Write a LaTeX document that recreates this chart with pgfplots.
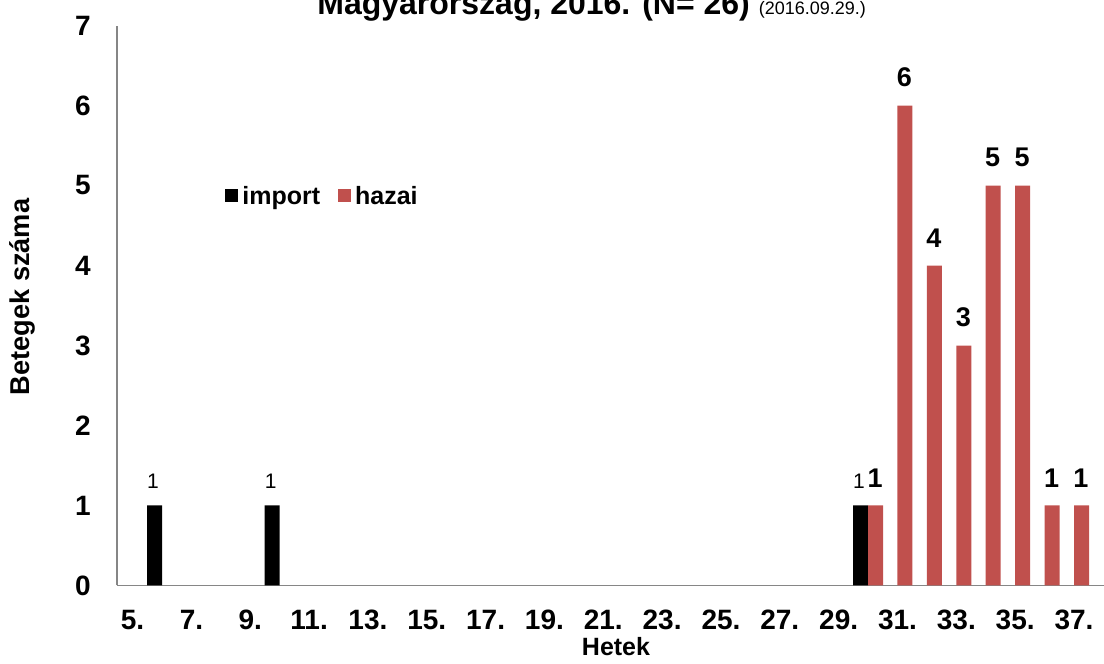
\documentclass[border=0pt]{standalone}
\usepackage{pgfplots}
\pgfplotsset{compat=1.18}
\usepackage{fontspec}
\setmainfont{Liberation Sans}
\definecolor{hazaired}{HTML}{C0504D}
\definecolor{axisgrey}{HTML}{868686}
\begin{document}
\begin{tikzpicture}
\begin{axis}[
  scale only axis,
  width=493.5pt, height=280pt,
  xmin=4.47, xmax=38.02,
  ymin=0, ymax=7,
  axis lines*=left,
  axis line style={axisgrey, line width=0.75pt},
  major tick length=0pt,
  /pgf/number format/assume math mode=true,
  xtick={5,7,...,37},
  xticklabels={5.,7.,9.,11.,13.,15.,17.,19.,21.,23.,25.,27.,29.,31.,33.,35.,37.},
  ytick={0,1,...,7},
  xticklabel style={font=\fontsize{14}{16}\selectfont\bfseries, inner sep=0pt, anchor=base, yshift=-22.25pt},
  yticklabel style={font=\fontsize{14}{16}\selectfont\bfseries, inner sep=0pt, anchor=east, xshift=-13pt},
  clip=false,
  legend style={at={(0.1094,0.694)}, anchor=west, draw=none, fill=none,
    font=\fontsize{12.5}{15}\selectfont\bfseries, legend columns=2,
    /tikz/every even column/.append style={column sep=7pt},
    inner sep=0pt},
  legend image code/.code={\fill[#1] (0pt,-2.5pt) rectangle (6.5pt,4pt);},
]
\addplot[ybar, fill=black, draw=none, bar width=7.5pt, bar shift=-3.75pt,
  nodes near coords,
  every node near coord/.append style={font=\fontsize{10.5}{12}\selectfont, inner sep=0pt, anchor=south, xshift=-4.5pt, yshift=8.5pt, text=black}]
  coordinates {(6,1) (10,1) (30,1)};
\addlegendentry{import}
\addplot[ybar, fill=hazaired, draw=none, bar width=7.5pt, bar shift=3.75pt,
  nodes near coords,
  every node near coord/.append style={font=\fontsize{13.5}{16}\selectfont\bfseries, inner sep=0pt, anchor=south, xshift=3.5pt, yshift=9pt, text=black}]
  coordinates {(30,1) (31,6) (32,4) (33,3) (34,5) (35,5) (36,1) (37,1)};
\addlegendentry{hazai}
\end{axis}
\node[rotate=90, font=\fontsize{13.6}{16}\selectfont\bfseries, inner sep=0pt] at (-47.5pt,144.25pt) {Betegek száma};
\node[anchor=base, font=\fontsize{12.5}{15}\selectfont\bfseries, inner sep=0pt] at (249.5pt,-35.25pt) {Hetek};
\node[anchor=base west, inner sep=0pt] at (100pt,285.25pt) {\fontsize{16}{19}\selectfont\bfseries Magyarország, 2016. (N= 26) \fontsize{9}{11}\selectfont\mdseries (2016.09.29.)};
\pgfresetboundingbox
\useasboundingbox (-58.5pt,-39.25pt) rectangle (493.5pt,292.75pt);
\end{tikzpicture}
\end{document}
